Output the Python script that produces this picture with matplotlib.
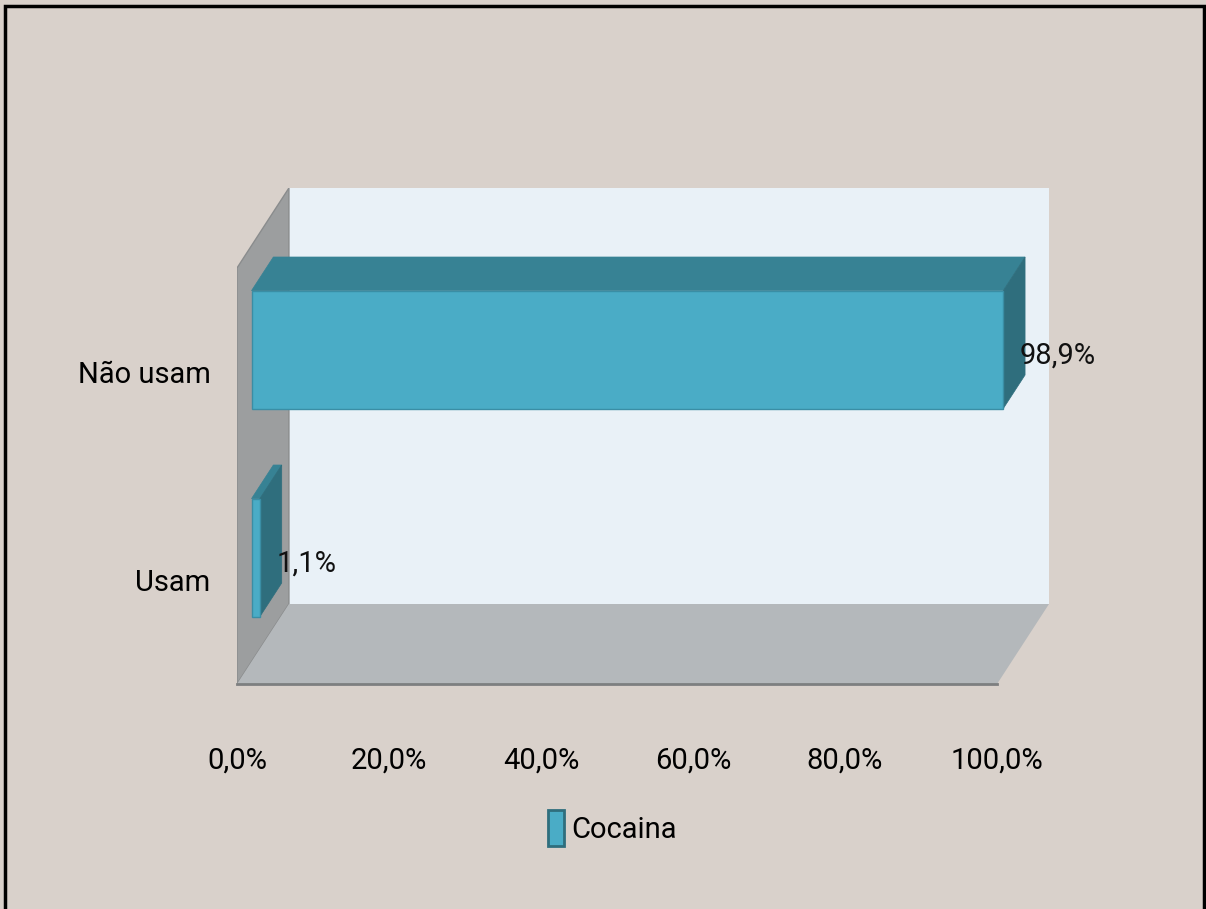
import numpy as np
import matplotlib
matplotlib.use("Agg")
import matplotlib.pyplot as plt
from matplotlib.patches import Polygon, Rectangle

plt.rcParams['font.family'] = ['Roboto', 'DejaVu Sans']

# dados
categorias = ['Usam', 'Não usam']
valores = np.array([1.1, 98.9])
rotulos = ['1,1%', '98,9%']
serie = 'Cocaina'
ticks_x = np.arange(0, 101, 20)

# cores
fundo = '#d9d1cb'
parede = '#e9f1f7'
lateral = '#9c9e9f'
piso = '#b4b8bb'
frente = '#4aacc6'
topo = '#378294'
lado = '#2f6e7d'

# geometria 3d (profundidade em unidades de dados)
W, H = 1206, 909
px_x = (998 - 237) / 100.0        # pixels por ponto percentual
px_y = 208.0                      # pixels por categoria
dx = 52 / px_x
dy = 80 / px_y
f0, f1 = 0.28, 0.70               # posicao da barra na profundidade
h = 118 / px_y
fs = 21

fig = plt.figure(figsize=(W / 100, H / 100), dpi=100)
fig.patch.set_facecolor(fundo)
fig.patches.append(Rectangle((5 / W, -0.01), 1199 / W, 1 - 6 / H + 0.01,
                             transform=fig.transFigure, fill=False,
                             edgecolor='black', linewidth=2.5))

ax = fig.add_axes([237 / W, 1 - 684 / H, (1049 - 237) / W, (684 - 188) / H])
ax.set_xlim(0, 100 + dx)
ax.set_ylim(-0.5, 1.5 + dy)
ax.set_facecolor('none')
for s in ax.spines.values():
    s.set_visible(False)

# paredes
ax.add_patch(Rectangle((dx, -0.5 + dy), 100, 2, facecolor=parede, edgecolor='none', zorder=0))
ax.add_patch(Polygon([(0, -0.5), (dx, -0.5 + dy), (dx, 1.5 + dy), (0, 1.5)],
                     facecolor=lateral, edgecolor='#8a8c8d', linewidth=1, zorder=1))
ax.add_patch(Polygon([(0, -0.5), (100, -0.5), (100 + dx, -0.5 + dy), (dx, -0.5 + dy)],
                     facecolor=piso, edgecolor='none', zorder=1))
ax.plot([0, 100], [-0.5, -0.5], color='#7d7f80', linewidth=2, zorder=2, clip_on=False)

# barras 3d
y = np.arange(len(categorias))
x0 = f0 * dx
y0 = y + f0 * dy
ddx = (f1 - f0) * dx
ddy = (f1 - f0) * dy
ax.barh(y0, valores, left=x0, height=h, color=frente, edgecolor='#3a8ea5',
        linewidth=1, zorder=4, label=serie)
for yi, v in zip(y0, valores):
    topo_pts = [(x0, yi + h / 2), (x0 + ddx, yi + h / 2 + ddy),
                (x0 + v + ddx, yi + h / 2 + ddy), (x0 + v, yi + h / 2)]
    lado_pts = [(x0 + v, yi - h / 2), (x0 + v, yi + h / 2),
                (x0 + v + ddx, yi + h / 2 + ddy), (x0 + v + ddx, yi - h / 2 + ddy)]
    ax.add_patch(Polygon(topo_pts, facecolor=topo, edgecolor=topo, linewidth=0.5, zorder=3))
    ax.add_patch(Polygon(lado_pts, facecolor=lado, edgecolor=lado, linewidth=0.5, zorder=3))

for yi, v, r in zip(y0, valores, rotulos):
    ax.annotate(r, (x0 + v, yi), xytext=(12, -4), textcoords='offset points',
                ha='left', va='center', fontsize=fs, color='#111111', zorder=6)

ax.set_yticks(y)
ax.set_yticklabels(categorias, fontsize=fs)
ax.set_xticks(ticks_x)
ax.set_xticklabels([f'{t:.1f}%'.replace('.', ',') for t in ticks_x], fontsize=fs)
ax.tick_params(axis='x', length=0, pad=45)
ax.tick_params(axis='y', length=0, pad=19)

leg = fig.legend(loc='center', bbox_to_anchor=(612 / W, 1 - 828 / H), frameon=False,
                 fontsize=fs, handlelength=0.55, handleheight=1.5, handletextpad=0.25)
leg.get_patches()[0].set_edgecolor(lado)
leg.get_patches()[0].set_linewidth(2)

fig.savefig('out.png', dpi=100, facecolor=fundo)
